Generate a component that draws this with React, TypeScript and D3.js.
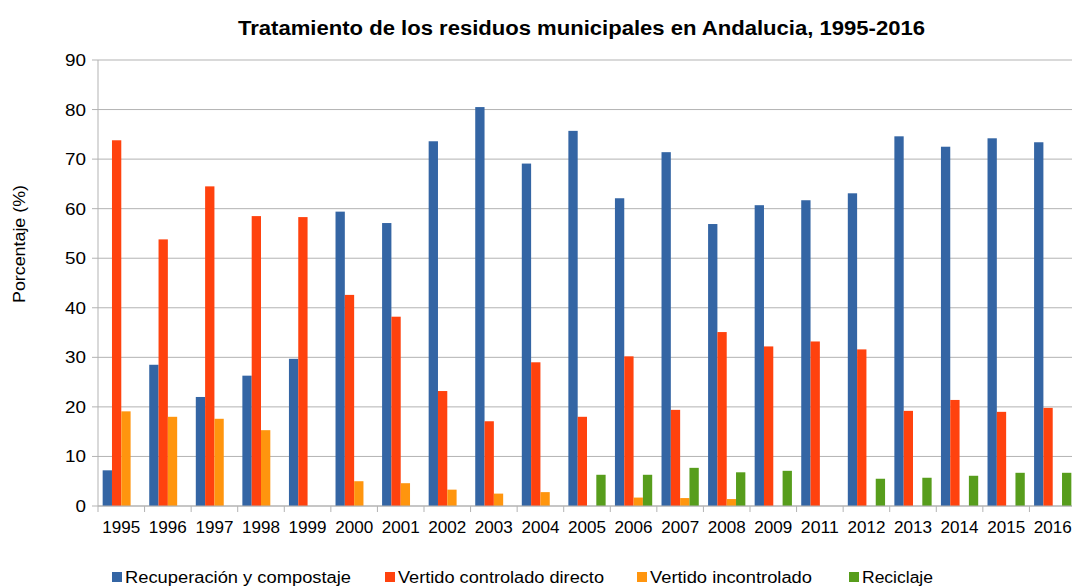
import React from "react";
import * as d3 from "d3";

const years = ["1995","1996","1997","1998","1999","2000","2001","2002","2003","2004","2005","2006","2007","2008","2009","2011","2012","2013","2014","2015","2016"];
const recuperacion = [7.2,28.5,22.0,26.3,29.7,59.4,57.1,73.6,80.5,69.1,75.7,62.1,71.4,56.9,60.7,61.7,63.1,74.6,72.5,74.2,73.4];
const vertidoControlado = [73.8,53.8,64.5,58.5,58.3,42.6,38.2,23.2,17.1,29.0,18.0,30.2,19.4,35.1,32.2,33.2,31.6,19.2,21.4,19.0,19.8];
const vertidoIncontrolado = [19.1,18.0,17.6,15.3,0,5.0,4.6,3.3,2.5,2.8,0,1.7,1.6,1.4,0,0,0,0,0,0,0];
const reciclaje = [0,0,0,0,0,0,0,0,0,0,6.3,6.3,7.7,6.8,7.1,0,5.5,5.7,6.1,6.7,6.7];
const seriesNames = ["Recuperación y compostaje","Vertido controlado directo","Vertido incontrolado","Reciclaje"];
const seriesColors = ["#3465a4","#ff420e","#ff950e","#579d1c"];
const yTicks = [0,10,20,30,40,50,60,70,80,90];
const title = "Tratamiento de los residuos municipales en Andalucia, 1995-2016";
const yLabel = "Porcentaje (%)";

const W = 1072, H = 588;
const left = 98, right = 1076, top = 60, bottom = 506;
const font = "'Liberation Sans', Arial, sans-serif";

export default function App() {
  const values = [recuperacion, vertidoControlado, vertidoIncontrolado, reciclaje];
  const x = d3.scaleBand().domain(years).range([left, right]).padding(0);
  const xs = d3.scaleBand().domain(seriesNames).range([0, x.bandwidth()]).paddingInner(0).paddingOuter(0.5);
  const y = d3.scaleLinear().domain([0, 90]).range([bottom, top]);
  const legendX = [112, 385, 637, 849];
  const legendW = [226, 206, 162, 71];
  return (
    <svg width={W} height={H} style={{ position: "absolute", left: 0, top: 0, background: "#fff" }} fontFamily={font}>
      <rect x={0} y={0} width={W} height={H} fill="#fff" />
      <text x={238} y={35} fontSize={20} fontWeight="bold" fill="#000" textLength={687} lengthAdjust="spacingAndGlyphs">{title}</text>
      {yTicks.map(t => (
        <g key={t}>
          <line x1={left} x2={right} y1={y(t)} y2={y(t)} stroke="#b3b3b3" strokeWidth={1} />
          <line x1={left - 6} x2={left} y1={y(t)} y2={y(t)} stroke="#b3b3b3" strokeWidth={1} />
          <text x={86 - (String(t).length * 10.5)} y={y(t) + 6} fontSize={17} fill="#000" textLength={String(t).length * 10.5} lengthAdjust="spacingAndGlyphs">{t}</text>
        </g>
      ))}
      <line x1={left} x2={left} y1={top} y2={bottom} stroke="#b3b3b3" strokeWidth={1} />
      {years.map((yr, i) => (
        <g key={yr}>
          {values.map((vals, s) => vals[i] > 0 ? (
            <rect key={s} x={x(yr)! + xs(seriesNames[s])!} y={y(vals[i])} width={xs.bandwidth()} height={y(0) - y(vals[i])} fill={seriesColors[s]} />
          ) : null)}
          <line x1={x(yr)!} x2={x(yr)!} y1={bottom} y2={bottom + 6} stroke="#b3b3b3" strokeWidth={1} />
          <text x={x(yr)! + x.bandwidth() / 2 - 19} y={533} fontSize={16.5} fill="#000" textLength={38} lengthAdjust="spacingAndGlyphs">{yr}</text>
        </g>
      ))}
      <line x1={left} x2={right} y1={bottom} y2={bottom} stroke="#b3b3b3" strokeWidth={1} />
      <text transform={`translate(25,303) rotate(-90)`} fontSize={16} fill="#000" textLength={118} lengthAdjust="spacingAndGlyphs">{yLabel}</text>
      {seriesNames.map((n, s) => (
        <g key={n}>
          <rect x={legendX[s]} y={572} width={10} height={10} fill={seriesColors[s]} />
          <text x={legendX[s] + 13} y={583} fontSize={16} fill="#000" textLength={legendW[s]} lengthAdjust="spacingAndGlyphs">{n}</text>
        </g>
      ))}
    </svg>
  );
}
